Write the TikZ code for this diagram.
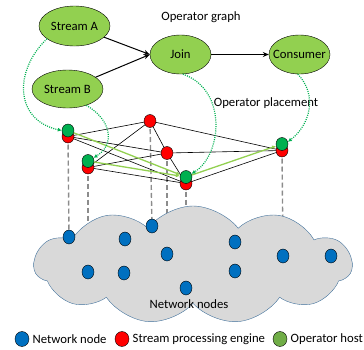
\documentclass[tikz,border=0pt]{standalone}
\usepackage{fontspec}
\setmainfont{Carlito}
\usepackage{xcolor}
\usepackage{tikz}
\usetikzlibrary{shapes.geometric,shapes.symbols,arrows.meta,backgrounds,positioning}

\definecolor{opgreen}{HTML}{92D050}
\definecolor{hostgreen}{HTML}{00B050}
\definecolor{keygreen}{HTML}{70AD47}
\definecolor{netblue}{HTML}{0070C0}
\definecolor{cloudgrey}{HTML}{D9D9D9}
\definecolor{cloudline}{HTML}{41719C}

\tikzset{
	opnode/.style={ellipse,draw,fill=opgreen,inner sep=0pt},
	engine/.style={ellipse,draw,fill=red,minimum width=12pt,minimum height=13pt,inner sep=0pt},
	host/.style={ellipse,draw,fill=hostgreen,minimum width=12pt,minimum height=13pt,inner sep=0pt},
	netnode/.style={ellipse,draw,fill=netblue,minimum width=12pt,minimum height=14pt,inner sep=0pt},
	keynode/.style={ellipse,draw,minimum width=14pt,minimum height=15pt,inner sep=0pt},
	placement/.style={draw=hostgreen,line width=1.2pt,dash pattern=on 1pt off 1.2pt,-{Latex[length=4pt,width=4pt]}},
	link/.style={draw=gray!90,line width=1.4pt,dash pattern=on 5pt off 3pt},
	flow/.style={draw=opgreen,line width=1.3pt,-{Latex[length=4pt,width=4pt]}}
}

\begin{document}
\begin{tikzpicture}[x=1pt,y=-1pt,font=\fontsize{12.7}{15}\selectfont]
		\useasboundingbox (0,0) rectangle (364,349);

		% operator graph
		\node[opnode,minimum width=71pt,minimum height=40pt] (sa) at (74.5,26) {\makebox[0pt]{Stream A}};
		\node[opnode,minimum width=71pt,minimum height=38pt] (sb) at (67.5,89) {\makebox[0pt]{Stream B}};
		\node[opnode,minimum width=61pt,minimum height=39pt] (join) at (180.5,54.5) {\makebox[0pt]{Join}};
		\node[opnode,minimum width=61pt,minimum height=39pt] (cons) at (299.5,54.5) {\makebox[0pt]{Consumer}};

		\draw[-{Stealth[length=6pt,width=5pt]},line width=1pt] (sa) -- (join.west);
		\draw[-{Stealth[length=6pt,width=5pt]},line width=1pt] (sb) -- (join.west);
		\draw[-{Stealth[length=6pt,width=5pt]},line width=1pt] (join) -- (cons);

		\node (graphlbl) at (201,17) {Operator graph};
		\node (placelbl) at (266,103) {Operator placement};

		% network
		\node[cloud,cloud puffs=11,cloud puff arc=105,aspect=2.6,draw=cloudline,fill=cloudgrey,minimum width=318pt,minimum height=118pt,inner sep=0pt] (net) at (193,265) {};
		\node (netlbl) at (189,304) {Network nodes};

		\foreach \n/\x/\y in {1/69/237,2/125/239,3/152/226,4/167/254,5/88/272,6/124/273,7/186/288,8/235/242,9/235/271,10/283/256,11/331/256}
			\node[netnode] (n\n) at (\x,\y) {};

		% engines and hosts
		\node[engine] (e1) at (68,136.5) {};
		\node[engine] (e2) at (150,121) {};
		\node[engine] (e3) at (167,153) {};
		\node[engine] (e4) at (88,167.5) {};
		\node[engine] (e5) at (186,183.5) {};
		\node[engine] (e6) at (282,150.5) {};
		\node[host] (h1) at (68,130.5) {};
		\node[host] (h4) at (88,161) {};
		\node[host] (h5) at (186,177) {};
		\node[host] (h6) at (282,144) {};

		\begin{pgfonlayer}{background}
			\draw[link] (e1.center) -- (n1.center);
			\draw[link] (e4.center) -- (n5.center);
			\draw[link] (e2.center) -- (n3.center);
			\draw[link] (e3.center) -- (n4.center);
			\draw[link] (e5.center) -- (n7.center);
			\draw[link] (e6.center) -- (n10.center);
			\foreach \a/\b in {1/2,1/3,1/5,4/2,4/3,4/5,2/3,2/6,3/6,3/5,5/6}
				\draw[line width=0.6pt] (e\a.center) -- (e\b.center);
		\end{pgfonlayer}

		\draw[flow] (h1) -- (h5);
		\draw[flow] (h4) -- (h5);
		\draw[flow] (h5) -- (h6);

		% placement
		\draw[placement] (sa.-155) .. controls (14,70) and (14,120) .. (h1.west);
		\draw[placement] (sb.-41) .. controls (112,120) and (115,145) .. (h4.30);
		\draw[placement] (join.-83) .. controls (228,90) and (222,155) .. (h5.30);
		\draw[placement] (cons.-95) .. controls (318,95) and (310,125) .. (h6.20);

		% legend
		\node[keynode,fill=netblue] (kblue) at (22,339) {};
		\node[right=0pt of kblue] (kbluetxt) {Network node};
		\node[keynode,fill=red] (kred) at (122,339) {};
		\node[right=0pt of kred] (kredtxt) {Stream processing engine};
		\node[keynode,fill=keygreen] (kgreen) at (280,339) {};
		\node[right=0pt of kgreen] (kgreentxt) {Operator host};
	\end{tikzpicture}
\end{document}
